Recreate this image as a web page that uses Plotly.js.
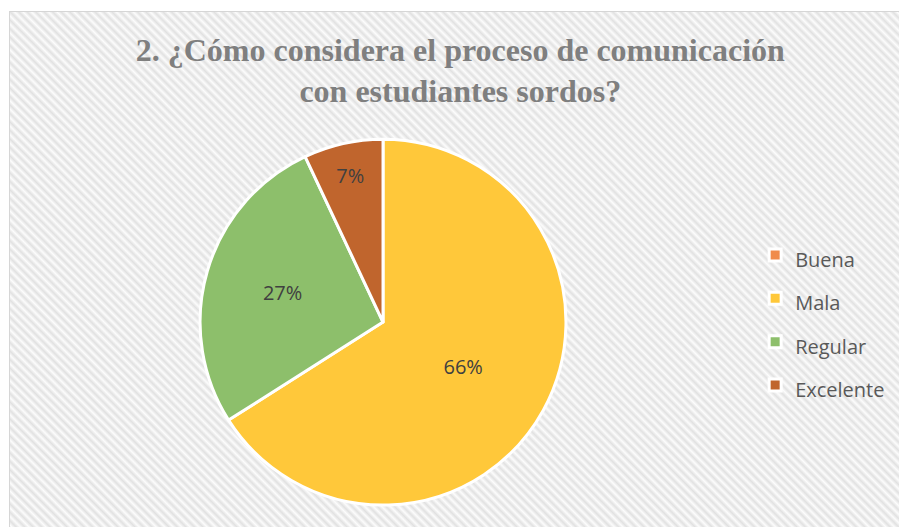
<!DOCTYPE html>
<html>
<head>
<meta charset="utf-8">
<script src="https://cdn.plot.ly/plotly-3.0.1.min.js"></script>
<style>
  html, body { margin:0; padding:0; background:#ffffff; width:899px; height:527px; overflow:hidden; }
  #frame { position:absolute; left:9px; top:11px; width:900px; height:530px;
    border:1px solid #d6d6d6;
    background: repeating-linear-gradient(45deg, #fcfcfc 0px, #e1e1e1 3px, #fcfcfc 6px); }
  #chart { position:absolute; left:0; top:0; width:899px; height:527px; }
</style>
</head>
<body>
<div id="frame"></div>
<div id="chart"></div>
<script>
const categories = ["Buena", "Mala", "Regular", "Excelente"];
const percentValues = [0, 66, 27, 7];
const sliceColors = ["#f08b4c", "#ffc83a", "#8dbf6b", "#c0652d"];
const chartTitle = "2. ¿Cómo considera el proceso de comunicación<br>con estudiantes sordos?";

const legendLabels = categories.map(c => '<span style="font-size:20px">' + c + '</span>');

const trace = {
  type: "pie",
  labels: legendLabels,
  values: percentValues,
  sort: false,
  direction: "clockwise",
  rotation: 0,
  marker: { colors: sliceColors, line: { color: "#ffffff", width: 3 } },
  text: percentValues.map(v => v > 0 ? v + "%" : ""),
  textinfo: "text",
  textposition: "inside",
  insidetextorientation: "horizontal",
  insidetextfont: { family: "Open Sans, Liberation Sans, sans-serif", size: 20, color: "#404040" },
  domain: { x: [0.2225, 0.6296], y: [0.0417, 0.736] },
  hoverinfo: "percent"
};

const layout = {
  width: 899, height: 527,
  margin: { l: 0, r: 0, t: 0, b: 0 },
  paper_bgcolor: "rgba(0,0,0,0)",
  plot_bgcolor: "rgba(0,0,0,0)",
  title: {
    text: chartTitle,
    font: { family: "Liberation Serif, Times New Roman, serif", size: 32, color: "#7f7f7f", weight: "bold" },
    x: 0.512, xanchor: "center",
    y: 0.885, yanchor: "top"
  },
  showlegend: true,
  legend: {
    x: 0.84, y: 0.392, xanchor: "left", yanchor: "middle",
    bgcolor: "rgba(0,0,0,0)",
    font: { family: "Open Sans, Liberation Sans, sans-serif", size: 31, color: "#595959" },
    itemwidth: 30,
    traceorder: "normal"
  }
};

Plotly.newPlot("chart", [trace], layout, { displayModeBar: false, staticPlot: true });
</script>
</body>
</html>
